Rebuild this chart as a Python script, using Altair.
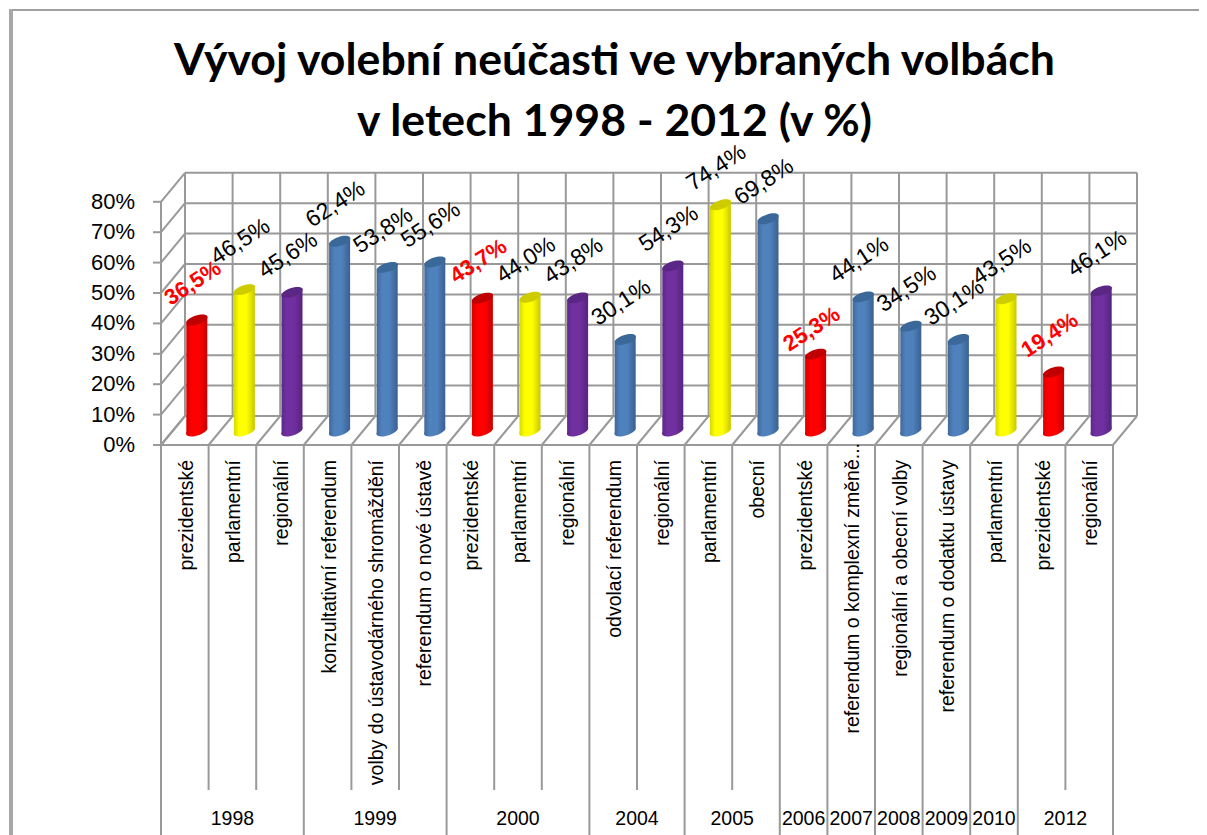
import altair as alt
import pandas as pd

title_lines = ["Vývoj volební neúčasti ve vybraných volbách", "v letech 1998 - 2012 (v %)"]
categories = ["prezidentské", "parlamentní", "regionální", "konzultativní referendum",
              "volby do ústavodárného shromáždění", "referendum o nové ústavě",
              "prezidentské", "parlamentní", "regionální", "odvolací referendum",
              "regionální", "parlamentní", "obecní", "prezidentské",
              "referendum o komplexní změně...", "regionální a obecní volby",
              "referendum o dodatku ústavy", "parlamentní", "prezidentské", "regionální"]
values = [36.5, 46.5, 45.6, 62.4, 53.8, 55.6, 43.7, 44.0, 43.8, 30.1,
          54.3, 74.4, 69.8, 25.3, 44.1, 34.5, 30.1, 43.5, 19.4, 46.1]
kinds = ["red", "yellow", "purple", "blue", "blue", "blue", "red", "yellow", "purple", "blue",
         "purple", "yellow", "blue", "red", "blue", "blue", "blue", "yellow", "red", "purple"]
years = ["1998", "1999", "2000", "2004", "2005", "2006", "2007", "2008", "2009", "2010", "2012"]
year_spans = [3, 3, 3, 2, 2, 1, 1, 1, 1, 1, 2]
y_ticks = [0, 10, 20, 30, 40, 50, 60, 70, 80]

W, H = 1191, 827
X0, XU = 161 - 8, 47.6      # front-left corner and width of one category, px
Y0, YU = 445 - 8, 3.04      # front zero line and one percent, px
DU, DV = 24 / XU, 29 / YU   # depth of the 3D box in data units
MU, MV = DU / 2, 14 / YU    # the bars stand halfway through the depth
xs = alt.Scale(domain=[-X0 / XU, (W - X0) / XU], nice=False, zero=False)
ys = alt.Scale(domain=[(Y0 - H) / YU, Y0 / YU], nice=False, zero=False)
V_MIN = (Y0 - H) / YU
GRID = "#999999"
N = len(categories)


def X(f):
    return alt.X(f, type="quantitative", scale=xs, axis=None)


def Y(f):
    return alt.Y(f, type="quantitative", scale=ys, axis=None)


# ---- 3D box and separators
seg = []
for t in y_ticks:
    seg.append((DU, t + DV, N + DU, t + DV))   # back wall, horizontal
    seg.append((0, t, DU, t + DV))             # side wall
    seg.append((-8 / XU, t, 0, t))             # tick
for i in range(N + 1):
    seg.append((i + DU, DV, i + DU, 80 + DV))  # back wall, vertical
    seg.append((i, 0, i + DU, DV))             # floor
seg.append((0, 0, 0, 80))
seg.append((0, 0, N, 0))
bounds = [0]
for s in year_spans:
    bounds.append(bounds[-1] + s)
for i in range(N + 1):
    seg.append((i, 0, i, V_MIN if i in bounds else -113.5))
grid_df = pd.DataFrame(seg, columns=["a", "b", "a2", "b2"])
grid = alt.Chart(grid_df).mark_rule(color=GRID, strokeWidth=2).encode(
    x=X("a"), y=Y("b"), x2="a2", y2="b2")

tick_df = pd.DataFrame(dict(t=y_ticks, xx=[-26 / XU] * len(y_ticks), txt=[f"{t}%" for t in y_ticks]))
tick_labels = alt.Chart(tick_df).mark_text(
    font="Liberation Sans", fontSize=22, align="right", baseline="middle", color="black").encode(
    x=X("xx"), y=Y("t"), text="txt:N")

# ---- cylinders
HALF = 10.5 / XU
TILT = 3.6 / YU
rows = []
for i, (v, k) in enumerate(zip(values, kinds)):
    c = i + 0.5 + MU
    rows.append(dict(i=i, k=k, x=c - HALF, top=v + MV - TILT, base=MV - TILT))
    rows.append(dict(i=i, k=k, x=c + HALF, top=v + MV + TILT, base=MV + TILT))
body = pd.DataFrame(rows)
caps = pd.DataFrame(dict(k=kinds, c=[i + 0.5 + MU for i in range(N)],
                         top=[v + MV for v in values], base=[MV] * N))


def grad(edge, mid, edge2):
    return alt.LinearGradient(gradient="linear", x1=0, x2=1, y1=0, y2=0, stops=[
        alt.GradientStop(color=edge, offset=0), alt.GradientStop(color=mid, offset=0.25),
        alt.GradientStop(color=mid, offset=0.6), alt.GradientStop(color=edge2, offset=1)])


PALETTE = {
    "red": (grad("#d80000", "#ff0000", "#c80000"), "#c00000"),
    "yellow": (grad("#d8d800", "#ffff00", "#c8c800"), "#cccc00"),
    "purple": (grad("#5f2889", "#7030a0", "#562480"), "#5b2785"),
    "blue": (grad("#40699a", "#4f81bd", "#3a6090"), "#3a6898"),
}
ELLIPSE = "M-0.96,0.32 A1,0.4 -18 1 1 0.96,-0.32 A1,0.4 -18 1 1 -0.96,0.32 Z"
layers = [grid, tick_labels]
for k, (g, capcol) in PALETTE.items():
    b = body[body.k == k]
    c = caps[caps.k == k]
    layers.append(alt.Chart(c).mark_point(shape=ELLIPSE, filled=True, fill=g, stroke=None, opacity=1, size=484)
                  .encode(x=X("c"), y=Y("base")))
    layers.append(alt.Chart(b).mark_area(fill=g, line=False, interpolate="linear", orient="vertical")
                  .encode(x=X("x"), y=Y("top"), y2="base", detail="i:N"))
    layers.append(alt.Chart(c).mark_point(shape=ELLIPSE, filled=True, fill=capcol, stroke=None, opacity=1, size=484)
                  .encode(x=X("c"), y=Y("top")))

# ---- text
label_gap = {1: 48, 13: 25}   # labels that sit apart from the usual gap above their bar, px
lab = pd.DataFrame(dict(
    txt=[f"{v:.1f}%".replace(".", ",") for v in values],
    k=kinds,
    lx=[i + 0.5 + MU - 4 / XU for i in range(N)],
    ly=[v + MV + label_gap.get(i, 37) / YU for i, v in enumerate(values)]))
layers.append(alt.Chart(lab[lab.k != "red"]).mark_text(
    font="Liberation Sans", fontSize=23, angle=327, align="center", baseline="middle", color="black")
    .encode(x=X("lx"), y=Y("ly"), text="txt:N"))
layers.append(alt.Chart(lab[lab.k == "red"]).mark_text(
    font="Liberation Sans", fontSize=22, fontWeight="bold", angle=327, align="center", baseline="middle", color="#ff0000")
    .encode(x=X("lx"), y=Y("ly"), text="txt:N"))

cat = pd.DataFrame(dict(
    txt=categories, cx=[i + 0.5 + 2 / XU for i in range(N)],
    cy=[(445 - (443 if c.endswith("...") else 460)) / YU for c in categories]))
layers.append(alt.Chart(cat).mark_text(
    font="Liberation Sans", fontSize=19.5, angle=270, align="right", baseline="middle", color="black")
    .encode(x=X("cx"), y=Y("cy"), text="txt:N"))

yr = pd.DataFrame(dict(txt=years, cx=[(bounds[i] + bounds[i + 1]) / 2 for i in range(len(years))],
                       cy=[(445 - 819) / YU] * len(years)))
layers.append(alt.Chart(yr).mark_text(
    font="Liberation Sans", fontSize=19.5, align="center", baseline="middle", color="black")
    .encode(x=X("cx"), y=Y("cy"), text="txt:N"))

# ---- outer frame of the slide
frame_top = alt.Chart(pd.DataFrame({"z": [0]})).mark_rule(color="#a0a0a0", strokeWidth=2).encode(
    x=alt.value(1), x2=alt.value(W), y=alt.value(2))
frame_left = alt.Chart(pd.DataFrame({"z": [0]})).mark_rule(color="#a8a8a8", strokeWidth=4).encode(
    x=alt.value(3), y=alt.value(1), y2=alt.value(H))
layers += [frame_top, frame_left]

chart = alt.layer(*layers).properties(
    width=W, height=H, padding=0, background="white",
    autosize=alt.AutoSizeParams(type="none"),
    title=alt.TitleParams(text=title_lines, font="Lato", fontSize=44.6, fontWeight="bold",
                          color="black", anchor="middle", baseline="top", lineHeight=61,
                          offset=-139, dx=11),
).configure_view(stroke=None)

chart.save("out.html", embed_options={"renderer": "svg", "actions": False})
